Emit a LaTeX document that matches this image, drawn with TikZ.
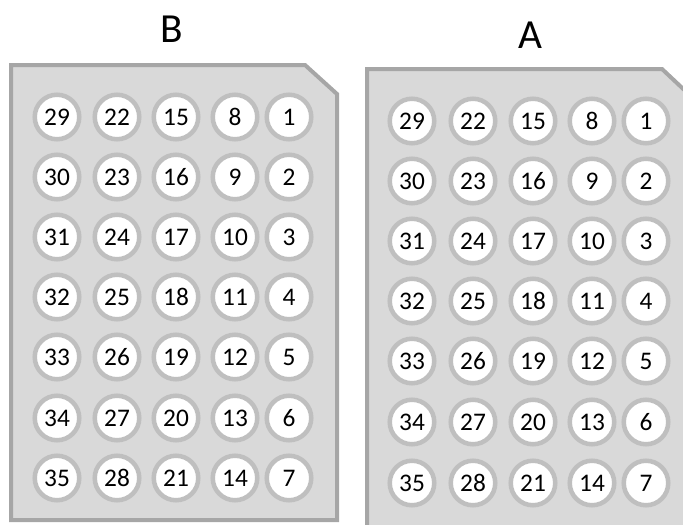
\documentclass[tikz,border=0pt]{standalone}
\usepackage{fontspec}
\setmainfont[Numbers={Lining,Monospaced}]{Carlito}
\definecolor{panelfill}{HTML}{D9D9D9}
\definecolor{panelborder}{HTML}{A6A6A6}
\definecolor{ringgray}{HTML}{BFBFBF}
\begin{document}
\begin{tikzpicture}[x=0.75pt,y=-0.75pt]
\useasboundingbox (0,0) rectangle (683,525);
\tikzset{
  panel/.style={draw=panelborder, line width=3pt, fill=panelfill},
  well/.style={circle, draw=ringgray, line width=3.4pt, fill=white, minimum size=33.4pt, inner sep=0pt, text height=12pt, text depth=0pt, font=\fontsize{19}{19}\selectfont},
  title/.style={font=\fontsize{31}{31}\selectfont, inner sep=0pt}
}
\clip (0,0) rectangle (683,525);
% panel B
\draw[panel] (11,65) -- (305,65) -- (337,94) -- (337,520) -- (11,520) -- cycle;
% panel A
\draw[panel] (367,69) -- (662,69) -- (695,100) -- (695,535) -- (367,535) -- cycle;
\node[title] (labB) at (172,29) {B};
\node[title] (labA) at (530,35) {A};
\foreach \c/\x in {0/57,1/117,2/176,3/235,4/289}{
  \foreach \r/\y in {0/117,1/177,2/237,3/297,4/357,5/418,6/478}{
    \pgfmathtruncatemacro{\n}{(4-\c)*7+\r+1}
    \node[well] (b\n) at (\x,\y) {\n};
  }
}
\foreach \c/\x in {0/412,1/473,2/533,3/592,4/646}{
  \foreach \r/\y in {0/121,1/181,2/241,3/301,4/361,5/422,6/483}{
    \pgfmathtruncatemacro{\n}{(4-\c)*7+\r+1}
    \node[well] (a\n) at (\x,\y) {\n};
  }
}
\end{tikzpicture}
\end{document}
